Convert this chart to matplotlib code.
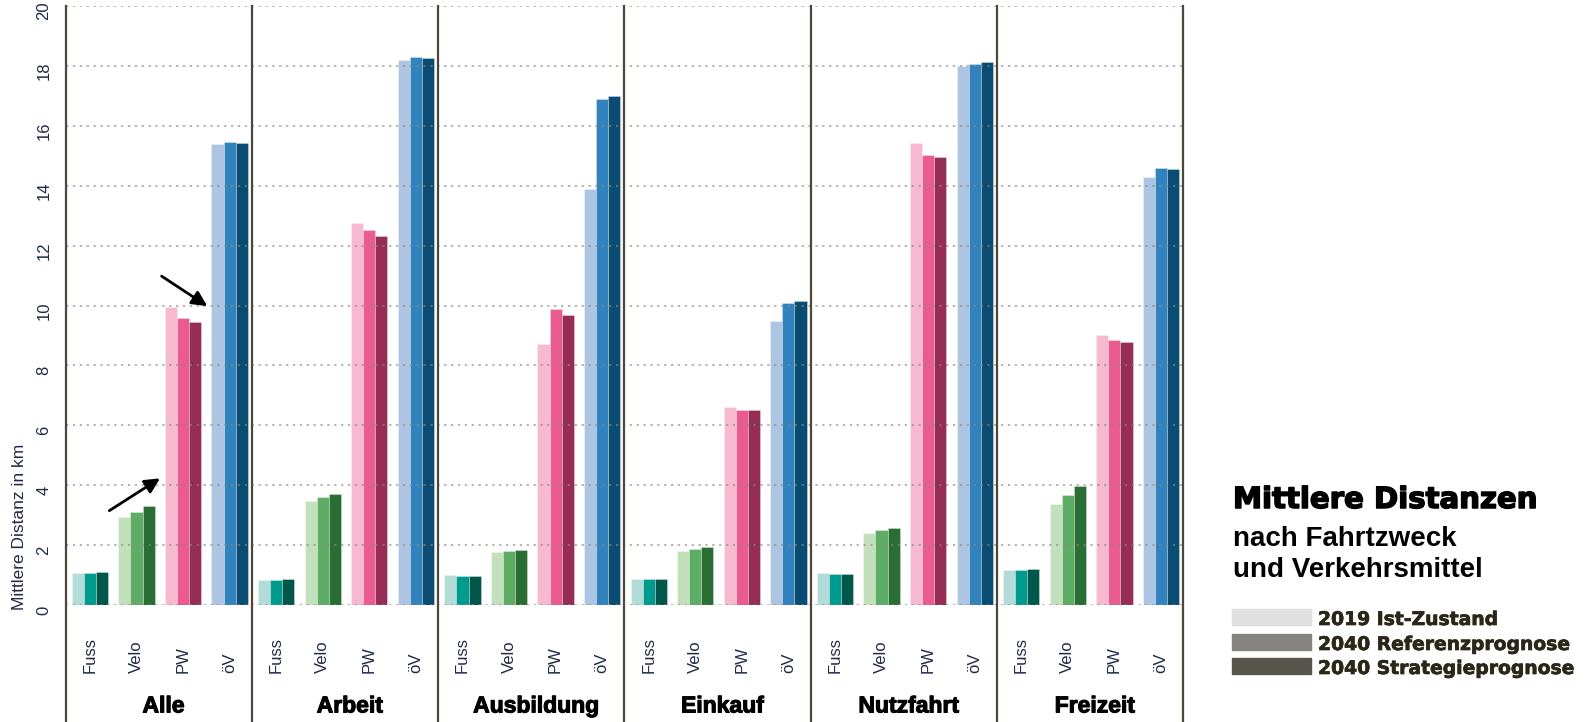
import numpy as np
import matplotlib
matplotlib.use('Agg')
import matplotlib.pyplot as plt
from matplotlib.patches import Rectangle
from matplotlib.transforms import offset_copy
import matplotlib.patheffects as pe

plt.rcParams['font.family'] = ['Liberation Sans', 'DejaVu Sans']

# Fahrtzweck (panels) and Verkehrsmittel (bars inside each panel)
purposes = ['Alle', 'Arbeit', 'Ausbildung', 'Einkauf', 'Nutzfahrt', 'Freizeit']
modes = ['Fuss', 'Velo', 'PW', 'öV']

# mean distance in km, one row per purpose: Fuss, Velo, PW, öV
ist_2019 = [
    [1.08, 2.93, 9.94, 15.39],
    [0.85, 3.48, 12.77, 18.20],
    [1.00, 1.77, 8.71, 13.88],
    [0.87, 1.79, 6.62, 9.49],
    [1.06, 2.42, 15.42, 18.00],
    [1.18, 3.38, 9.02, 14.30],
]
referenz_2040 = [
    [1.08, 3.12, 9.59, 15.47],
    [0.85, 3.60, 12.52, 18.29],
    [0.98, 1.80, 9.87, 16.90],
    [0.87, 1.86, 6.50, 10.07],
    [1.03, 2.49, 15.02, 18.07],
    [1.18, 3.68, 8.84, 14.60],
]
strategie_2040 = [
    [1.09, 3.30, 9.46, 15.42],
    [0.87, 3.72, 12.33, 18.26],
    [0.97, 1.83, 9.68, 16.98],
    [0.87, 1.92, 6.50, 10.16],
    [1.04, 2.56, 14.95, 18.12],
    [1.20, 3.96, 8.79, 14.56],
]
scenario_labels = ['2019 Ist-Zustand', '2040 Referenzprognose', '2040 Strategieprognose']
y_ticks = list(range(0, 21, 2))

# light / mid / dark shade per mode
mode_colors = {
    'Fuss': ['#b3dcd8', '#009b8f', '#00574a'],
    'Velo': ['#c2e0bb', '#5dae64', '#2a6e35'],
    'PW':   ['#f7b9cf', '#ea5b8f', '#962d55'],
    'öV':   ['#adc4e3', '#3182bd', '#0a4c72'],
}
legend_colors = ['#e0e0e0', '#85837e', '#58554e']

W, H = 1589, 722
def fx(x):
    return x / W
def fy(y):
    return 1 - y / H

fig = plt.figure(figsize=(W / 100, H / 100), dpi=100)
ax = fig.add_axes([fx(65.7), fy(605), (1183.3 - 65.7) / W, 599 / H])

n_modes = len(modes)
bar_w = 0.26
series = [ist_2019, referenz_2040, strategie_2040]
slot = np.arange(len(purposes) * n_modes) + 0.52
for k, data in enumerate(series):
    heights = np.array(data).ravel()
    cols = [mode_colors[modes[i % n_modes]][k] for i in range(len(heights))]
    ax.bar(slot + (k - 1) * bar_w, heights, width=bar_w, color=cols,
           edgecolor=(1, 1, 1, 0.35), linewidth=0.6, zorder=2)

ax.set_xlim(0, len(purposes) * n_modes)
ax.set_ylim(0, 20)
for s in ax.spines.values():
    s.set_visible(False)
ax.set_xticks([])
ax.set_yticks(y_ticks)
ax.tick_params(axis='y', length=0, labelleft=False)

# rotated y tick labels, sitting a little below their grid line
tick_trans = offset_copy(ax.get_yaxis_transform(), fig=fig, x=0, y=-5, units='dots')
for v in y_ticks:
    ax.text(-0.0194, v, str(v), transform=tick_trans, rotation=90, ha='center',
            va='center', fontsize=12, color='#1f2a44', clip_on=False)

for v in y_ticks:
    ax.axhline(v, color='#8a8a80', lw=1.1, ls=(0, (1.5, 3)), alpha=0.8, zorder=3)

# panel separators run down through the label area
for p in range(len(purposes) + 1):
    ax.axvline(p * n_modes, ymin=-0.196, ymax=1.0, color='#4d4839', lw=1.6,
               clip_on=False, zorder=4)

ax.set_ylabel('Mittlere Distanz in km', fontsize=12.5, color='#1f2a44',
              rotation=90, va='center', ha='center')
ax.yaxis.set_label_coords(-0.0412, 0.13)

heavy = [pe.withStroke(linewidth=0.8, foreground='black')]
for p, name in enumerate(purposes):
    for m, mode in enumerate(modes):
        ax.text(p * n_modes + m + 0.52, -2.27, mode, rotation=90, ha='center',
                va='bottom', fontsize=12, color='#1f2a44')
    ax.text(p * n_modes + 2.1, -3.37, name, ha='center', va='center',
            fontsize=16.5, fontweight='bold', color='black', path_effects=heavy)

# arrows pointing at the Alle bars
arrow = dict(arrowstyle='-|>,head_length=0.9,head_width=0.45', color='black',
             lw=2, shrinkA=0, shrinkB=0)
ax.annotate('', xy=(2.024, 4.23), xytext=(0.937, 3.15), arrowprops=arrow)
ax.annotate('', xy=(3.039, 9.98), xytext=(2.06, 10.98), arrowprops=arrow)

# title block and legend
fig.text(fx(1233), fy(508), 'Mittlere Distanzen', fontsize=21, fontweight='bold',
         family='DejaVu Sans', va='baseline',
         path_effects=[pe.withStroke(linewidth=1.1, foreground='black')])
fig.text(fx(1233), fy(546), 'nach Fahrtzweck', fontsize=20, fontweight='bold',
         va='baseline')
fig.text(fx(1233), fy(577), 'und Verkehrsmittel', fontsize=20, fontweight='bold',
         va='baseline')

for i, (lab, col) in enumerate(zip(scenario_labels, legend_colors)):
    bottom = [625, 650, 674][i]
    fig.patches.append(Rectangle((fx(1232), fy(bottom)), 79 / W, 16 / H,
                                 transform=fig.transFigure, color=col))
    fig.text(fx(1318), fy(bottom), lab, fontsize=13.5, fontweight='bold',
             family='DejaVu Sans', color='#2b2618', va='baseline',
             path_effects=[pe.withStroke(linewidth=0.5, foreground='#2b2618')])

fig.savefig('out.png', dpi=100)
